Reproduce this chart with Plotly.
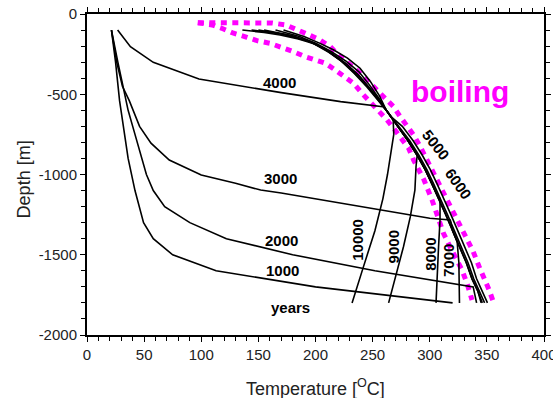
import plotly.graph_objects as go

# ---------------- data: temperature [degC] vs depth [m] profiles ----------------
# early profiles (conductive heating from below)
T_1000 = [21.4, 25, 28.5, 32, 36, 42, 45.5, 49.5, 58, 75, 113, 200, 320]
D_1000 = [-100, -300, -540, -700, -900, -1100, -1200, -1300, -1400, -1500, -1600, -1700, -1800]

T_2000 = [21.4, 24, 27, 30, 33, 36, 40, 44, 48, 52, 58, 68, 90, 122, 180, 252, 338, 341]
D_2000 = [-100, -200, -300, -400, -500, -600, -700, -800, -900, -1000, -1100, -1200, -1300,
          -1400, -1500, -1600, -1700, -1800]

T_3000 = [21.4, 26, 31, 37, 46, 56, 72, 100, 130, 152, 170, 220, 257, 300, 318,
          320, 326, 332, 337, 342, 345]
D_3000 = [-100, -300, -450, -540, -700, -805, -910, -1003, -1055, -1097, -1115, -1175, -1221,
          -1273, -1283, -1350, -1450, -1550, -1650, -1725, -1800]

T_4000 = [26.8, 38, 58, 98, 170, 222, 259]
D_4000 = [-100, -204, -301, -405, -490, -546, -578]

# path along the boiling-point-with-depth curve
BOIL_T = [262, 272, 281, 289, 296, 302, 308, 314, 320, 326, 332, 337, 342, 346]
BOIL_D = [-600, -700, -790, -880, -970, -1060, -1150, -1250, -1350, -1450, -1550, -1650, -1725, -1800]

# later profiles: shallow part converging onto the boiling curve
TOP_5000_T = [172, 190, 204, 216, 228, 239, 248, 256, 262]
TOP_5000_D = [-100, -140, -183, -224, -275, -338, -420, -510, -600]
TOP_6000_T = [165, 186, 201, 214, 227, 238, 247, 255, 262]
TOP_6000_D = [-100, -140, -185, -235, -295, -360, -440, -520, -600]
TOP_7000_T = [155, 180, 199, 213, 226, 237, 246, 255, 262]
TOP_7000_D = [-100, -135, -180, -240, -305, -375, -450, -525, -600]
TOP_8000_T = [150, 175, 195, 210, 224, 235, 246, 254, 262]
TOP_8000_D = [-100, -130, -172, -228, -298, -372, -452, -528, -600]
TOP_9000_T = [144, 170, 192, 208, 222, 234, 245, 254, 262]
TOP_9000_D = [-100, -125, -165, -215, -290, -370, -455, -530, -600]
TOP_10000_T = [136, 155, 169, 185, 198, 212, 227.6, 239, 248, 256, 262]
TOP_10000_D = [-100, -115, -131, -155, -183, -240, -318, -391, -470, -540, -600]

# deeper parts
LOW_5000_T = [273, 282.5, 290.5, 297.5, 303.5, 309.5, 315.5, 321.5, 327.5, 333.5, 338.5, 343.5, 348]
LOW_5000_D = [-700, -790, -880, -970, -1060, -1150, -1250, -1350, -1450, -1550, -1650, -1725, -1800]
LOW_6000_T = [266, 276, 285.5, 293.5, 300.5, 306.5, 312.5, 318.5, 324.5, 330.5, 336.5, 341, 346, 350.5]
LOW_6000_D = [-640, -700, -790, -880, -970, -1060, -1150, -1250, -1350, -1450, -1550, -1650, -1725, -1800]
LOW_7000_T = [324, 325.5, 326, 326]
LOW_7000_D = [-1420, -1550, -1700, -1800]
LOW_8000_T = [309, 309, 307.7, 306.5, 305.5]
LOW_8000_D = [-1150, -1283, -1450, -1650, -1800]
LOW_9000_T = [289, 288, 287, 283, 277, 271, 264]
LOW_9000_D = [-880, -950, -1097, -1263, -1450, -1615, -1800]
LOW_10000_T = [268, 268.5, 266, 263, 259, 252, 242, 232]
LOW_10000_D = [-660, -750, -870, -1000, -1150, -1350, -1574, -1800]

# boiling envelope (dotted)
ENV_OUT_T = [97, 120, 140, 162, 174, 182, 192.6, 202.7, 213, 220, 229, 237.7, 245, 252.3, 261,
             268.4, 274.2, 280, 285.9, 291.7, 296.1, 300.5, 306.3, 312, 318, 325, 331, 338, 343,
             348, 352, 356]
ENV_OUT_D = [-54, -54, -54, -56, -68, -89, -125, -157, -204, -255, -307, -360, -411, -463, -515,
             -578, -640, -692, -754, -827, -889, -951, -1034, -1117, -1200, -1290, -1380, -1480,
             -1570, -1650, -1720, -1800]
ENV_IN_T = [97, 109.4, 118, 128.3, 140, 148.8, 160.4, 169, 180.8, 191, 200, 208.6, 217.3, 226,
            233.3, 240.7, 248, 255, 262.6, 268.4, 275.7, 281.5, 285.9, 290.2, 295, 302, 307, 312,
            317, 322.4, 328.2, 332.6, 337]
ENV_IN_D = [-54, -68, -89, -120, -145, -166, -183, -204, -235, -266, -287, -307, -349, -391,
            -432, -494, -546, -598, -660, -712, -775, -837, -910, -972, -1034, -1159, -1260, -1366,
            -1440, -1512, -1595, -1678, -1782]

# labels: text, temperature, depth, angle
LABELS = ["4000", "3000", "2000", "1000", "years", "5000", "6000", "10000", "9000", "8000", "7000"]
LABEL_T = [168.4, 169.5, 170.3, 171, 178.3, 305, 325, 237, 268.4, 301, 317]
LABEL_D = [-427, -1028, -1411, -1598, -1828, -816, -1055, -1408, -1450, -1495, -1538]
LABEL_ANGLE = [0, 0, 0, 0, 0, 52, 55, -90, -90, -90, -90]

X_TICKS = [0, 50, 100, 150, 200, 250, 300, 350, 400]
Y_TICKS = [-2000, -1500, -1000, -500, 0]
Y_TICK_TEXT = ["-2000", "-1500", "-1000", "-500", "0"]

FONT = "Liberation Sans, Arial, Helvetica, sans-serif"
PINK = "#FF00FF"

fig = go.Figure()


def add_line(t, d, width=1.6, color="black", dash=None):
    fig.add_trace(go.Scatter(x=t, y=d, mode="lines",
                             line=dict(color=color, width=width, dash=dash),
                             hoverinfo="skip", showlegend=False))


# boiling envelope
add_line(ENV_OUT_T, ENV_OUT_D, width=5, color=PINK, dash="6px,5.5px")
add_line(ENV_IN_T, ENV_IN_D, width=5, color=PINK, dash="6px,5.5px")

# profiles
add_line(T_1000, D_1000)
add_line(T_2000, D_2000)
add_line(T_3000, D_3000)
add_line(T_4000 + BOIL_T, D_4000 + BOIL_D)
add_line(TOP_5000_T + LOW_5000_T, TOP_5000_D + LOW_5000_D)
add_line(TOP_6000_T + LOW_6000_T, TOP_6000_D + LOW_6000_D)
add_line(TOP_7000_T + BOIL_T[1:9] + LOW_7000_T, TOP_7000_D + BOIL_D[1:9] + LOW_7000_D)
add_line(TOP_8000_T + BOIL_T[1:7] + LOW_8000_T, TOP_8000_D + BOIL_D[1:7] + LOW_8000_D)
add_line(TOP_9000_T + BOIL_T[1:3] + LOW_9000_T, TOP_9000_D + BOIL_D[1:3] + LOW_9000_D)
add_line(TOP_10000_T + LOW_10000_T, TOP_10000_D + LOW_10000_D)

for txt, t, d, ang in zip(LABELS, LABEL_T, LABEL_D, LABEL_ANGLE):
    fig.add_annotation(x=t, y=d, text=f"<b>{txt}</b>", showarrow=False, textangle=ang,
                       font=dict(family=FONT, size=15, color="black"),
                       xanchor="center", yanchor="middle")

fig.add_annotation(x=326.7, y=-480, text="<b>boiling</b>", showarrow=False,
                   font=dict(family=FONT, size=30, color=PINK),
                   xanchor="center", yanchor="middle")

# axis titles
fig.add_annotation(xref="paper", yref="paper", x=0.5, y=-0.165,
                   text="Temperature [<sup>O</sup>C]", showarrow=False,
                   font=dict(family=FONT, size=18, color="#222"),
                   xanchor="center", yanchor="middle")
fig.add_annotation(xref="paper", yref="paper", x=-0.137, y=0.486, textangle=-90,
                   text="Depth [m]", showarrow=False,
                   font=dict(family=FONT, size=18, color="#222"),
                   xanchor="center", yanchor="middle")

axis_common = dict(showline=True, linecolor="black", linewidth=2, mirror="allticks",
                   ticks="outside", ticklen=5, tickwidth=1.3, tickcolor="black",
                   showgrid=False, zeroline=False, automargin=False,
                   ticklabeloverflow="allow",
                   tickfont=dict(family=FONT, size=15, color="#222"))

fig.update_xaxes(range=[0, 400], tickvals=X_TICKS,
                 minor=dict(dtick=10, ticks="outside", ticklen=4, tickwidth=1.3,
                            tickcolor="black", showgrid=False),
                 **axis_common)
fig.update_yaxes(range=[-2000, 0], tickvals=Y_TICKS, ticktext=Y_TICK_TEXT,
                 minor=dict(dtick=100, ticks="outside", ticklen=4, tickwidth=1.3,
                            tickcolor="black", showgrid=False),
                 **axis_common)

fig.update_layout(width=553, height=398, margin=dict(l=87, r=9, t=14, b=63),
                  plot_bgcolor="white", paper_bgcolor="white",
                  font=dict(family=FONT))

fig.write_html("out.html")
